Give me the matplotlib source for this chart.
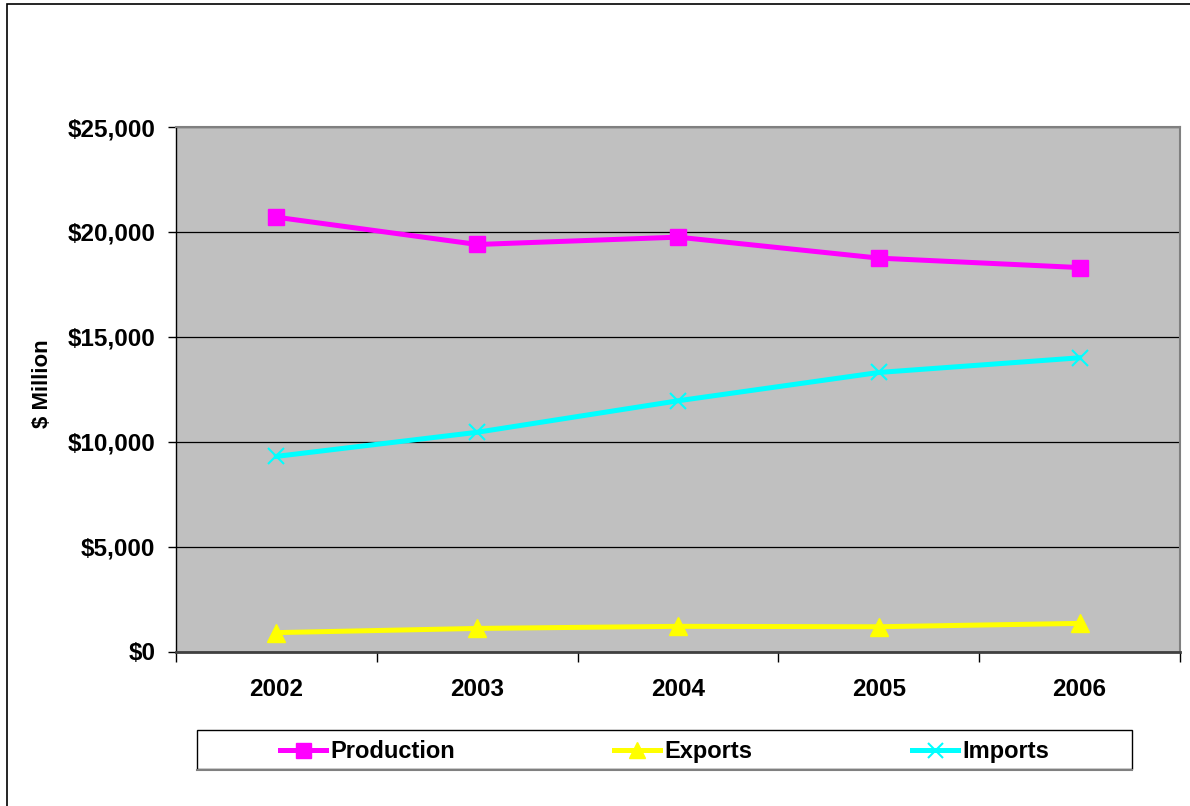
import matplotlib
matplotlib.use("Agg")
import matplotlib.pyplot as plt
from matplotlib.patches import Rectangle
from matplotlib.lines import Line2D
from matplotlib.ticker import FuncFormatter, FixedLocator

plt.rcParams['font.family'] = ['Liberation Sans', 'DejaVu Sans']

years = ["2002", "2003", "2004", "2005", "2006"]
production = [20700, 19400, 19750, 18750, 18300]
exports = [900, 1100, 1200, 1180, 1340]
imports = [9300, 10450, 11950, 13300, 14000]

W, H = 1190, 806
fig = plt.figure(figsize=(W / 100, H / 100), dpi=100)
fig.patch.set_facecolor("white")

# plot area in pixel terms
left, right, top, bottom = 176, 1180, 127, 651.5
ax = fig.add_axes([left / W, 1 - bottom / H, (right - left) / W, (bottom - top) / H])
ax.set_facecolor("#C0C0C0")

x = list(range(len(years)))
ax.plot(x, production, color="#FF00FF", lw=3.6, marker="s", ms=12,
        mec="#FF00FF", mfc="#FF00FF", label="Production", zorder=3)
ax.plot(x, exports, color="#FFFF00", lw=3.6, marker="^", ms=13,
        mec="#FFFF00", mfc="#FFFF00", label="Exports", zorder=3)
ax.plot(x, imports, color="#00FFFF", lw=3.6, marker="x", ms=12, mew=1.5,
        mec="#00FFFF", label="Imports", zorder=3)

ax.set_xlim(-0.5, len(years) - 0.5)
ax.set_ylim(0, 25000)
ax.set_yticks(range(0, 25001, 5000))
ax.yaxis.set_major_formatter(FuncFormatter(lambda v, p: f"${int(v):,}"))
ax.yaxis.grid(True, color="#000000", lw=0.9)
ax.set_axisbelow(True)

ax.set_xticks(x)
ax.set_xticklabels(years)
ax.xaxis.set_minor_locator(FixedLocator([i - 0.5 for i in range(len(years) + 1)]))
ax.tick_params(axis="x", which="major", length=0, pad=19, labelsize=17.5)
ax.tick_params(axis="x", which="minor", length=7, width=1, direction="out", color="black")
ax.tick_params(axis="y", which="major", length=6, width=1, direction="out", pad=9, labelsize=17.5)
for lbl in ax.get_xticklabels() + ax.get_yticklabels():
    lbl.set_fontweight("bold")

ax.set_ylabel("$ Million", fontsize=16, fontweight="bold")
ax.yaxis.set_label_coords(-0.1225, 0.51)

ax.spines["left"].set_color("black")
ax.spines["left"].set_linewidth(1)
ax.spines["bottom"].set_color("#404040")
ax.spines["bottom"].set_linewidth(2)
ax.spines["top"].set_color("#808080")
ax.spines["top"].set_linewidth(1.5)
ax.spines["right"].set_color("#808080")
ax.spines["right"].set_linewidth(1.5)

# legend box
lx0, lx1, ly0, ly1 = 197, 1132, 730, 769
fig.patches.append(Rectangle((lx0 / W, 1 - ly1 / H), (lx1 - lx0) / W, (ly1 - ly0) / H,
                             transform=fig.transFigure, facecolor="white",
                             edgecolor="black", lw=1, zorder=1))
fig.lines.append(Line2D([lx0 / W, lx1 / W], [1 - (ly1 + 1) / H] * 2,
                        transform=fig.transFigure, color="#808080", lw=1.5))
leg = fig.legend(loc="center",
                 bbox_to_anchor=((lx0 + lx1) / 2 / W, 1 - ((ly0 + ly1) / 2 + 2) / H),
                 ncol=3, frameon=False, prop={"size": 17, "weight": "bold"},
                 handlelength=1.95, handletextpad=0.2, columnspacing=6.73,
                 markerscale=0.9)
leg.set_zorder(2)

# outer chart border
fig.patches.append(Rectangle((7 / W, -0.05), 1.1, 1 - 4 / H + 0.05,
                             transform=fig.transFigure, facecolor="none",
                             edgecolor="black", lw=1.2, zorder=0))

fig.savefig("out.png", dpi=100)
